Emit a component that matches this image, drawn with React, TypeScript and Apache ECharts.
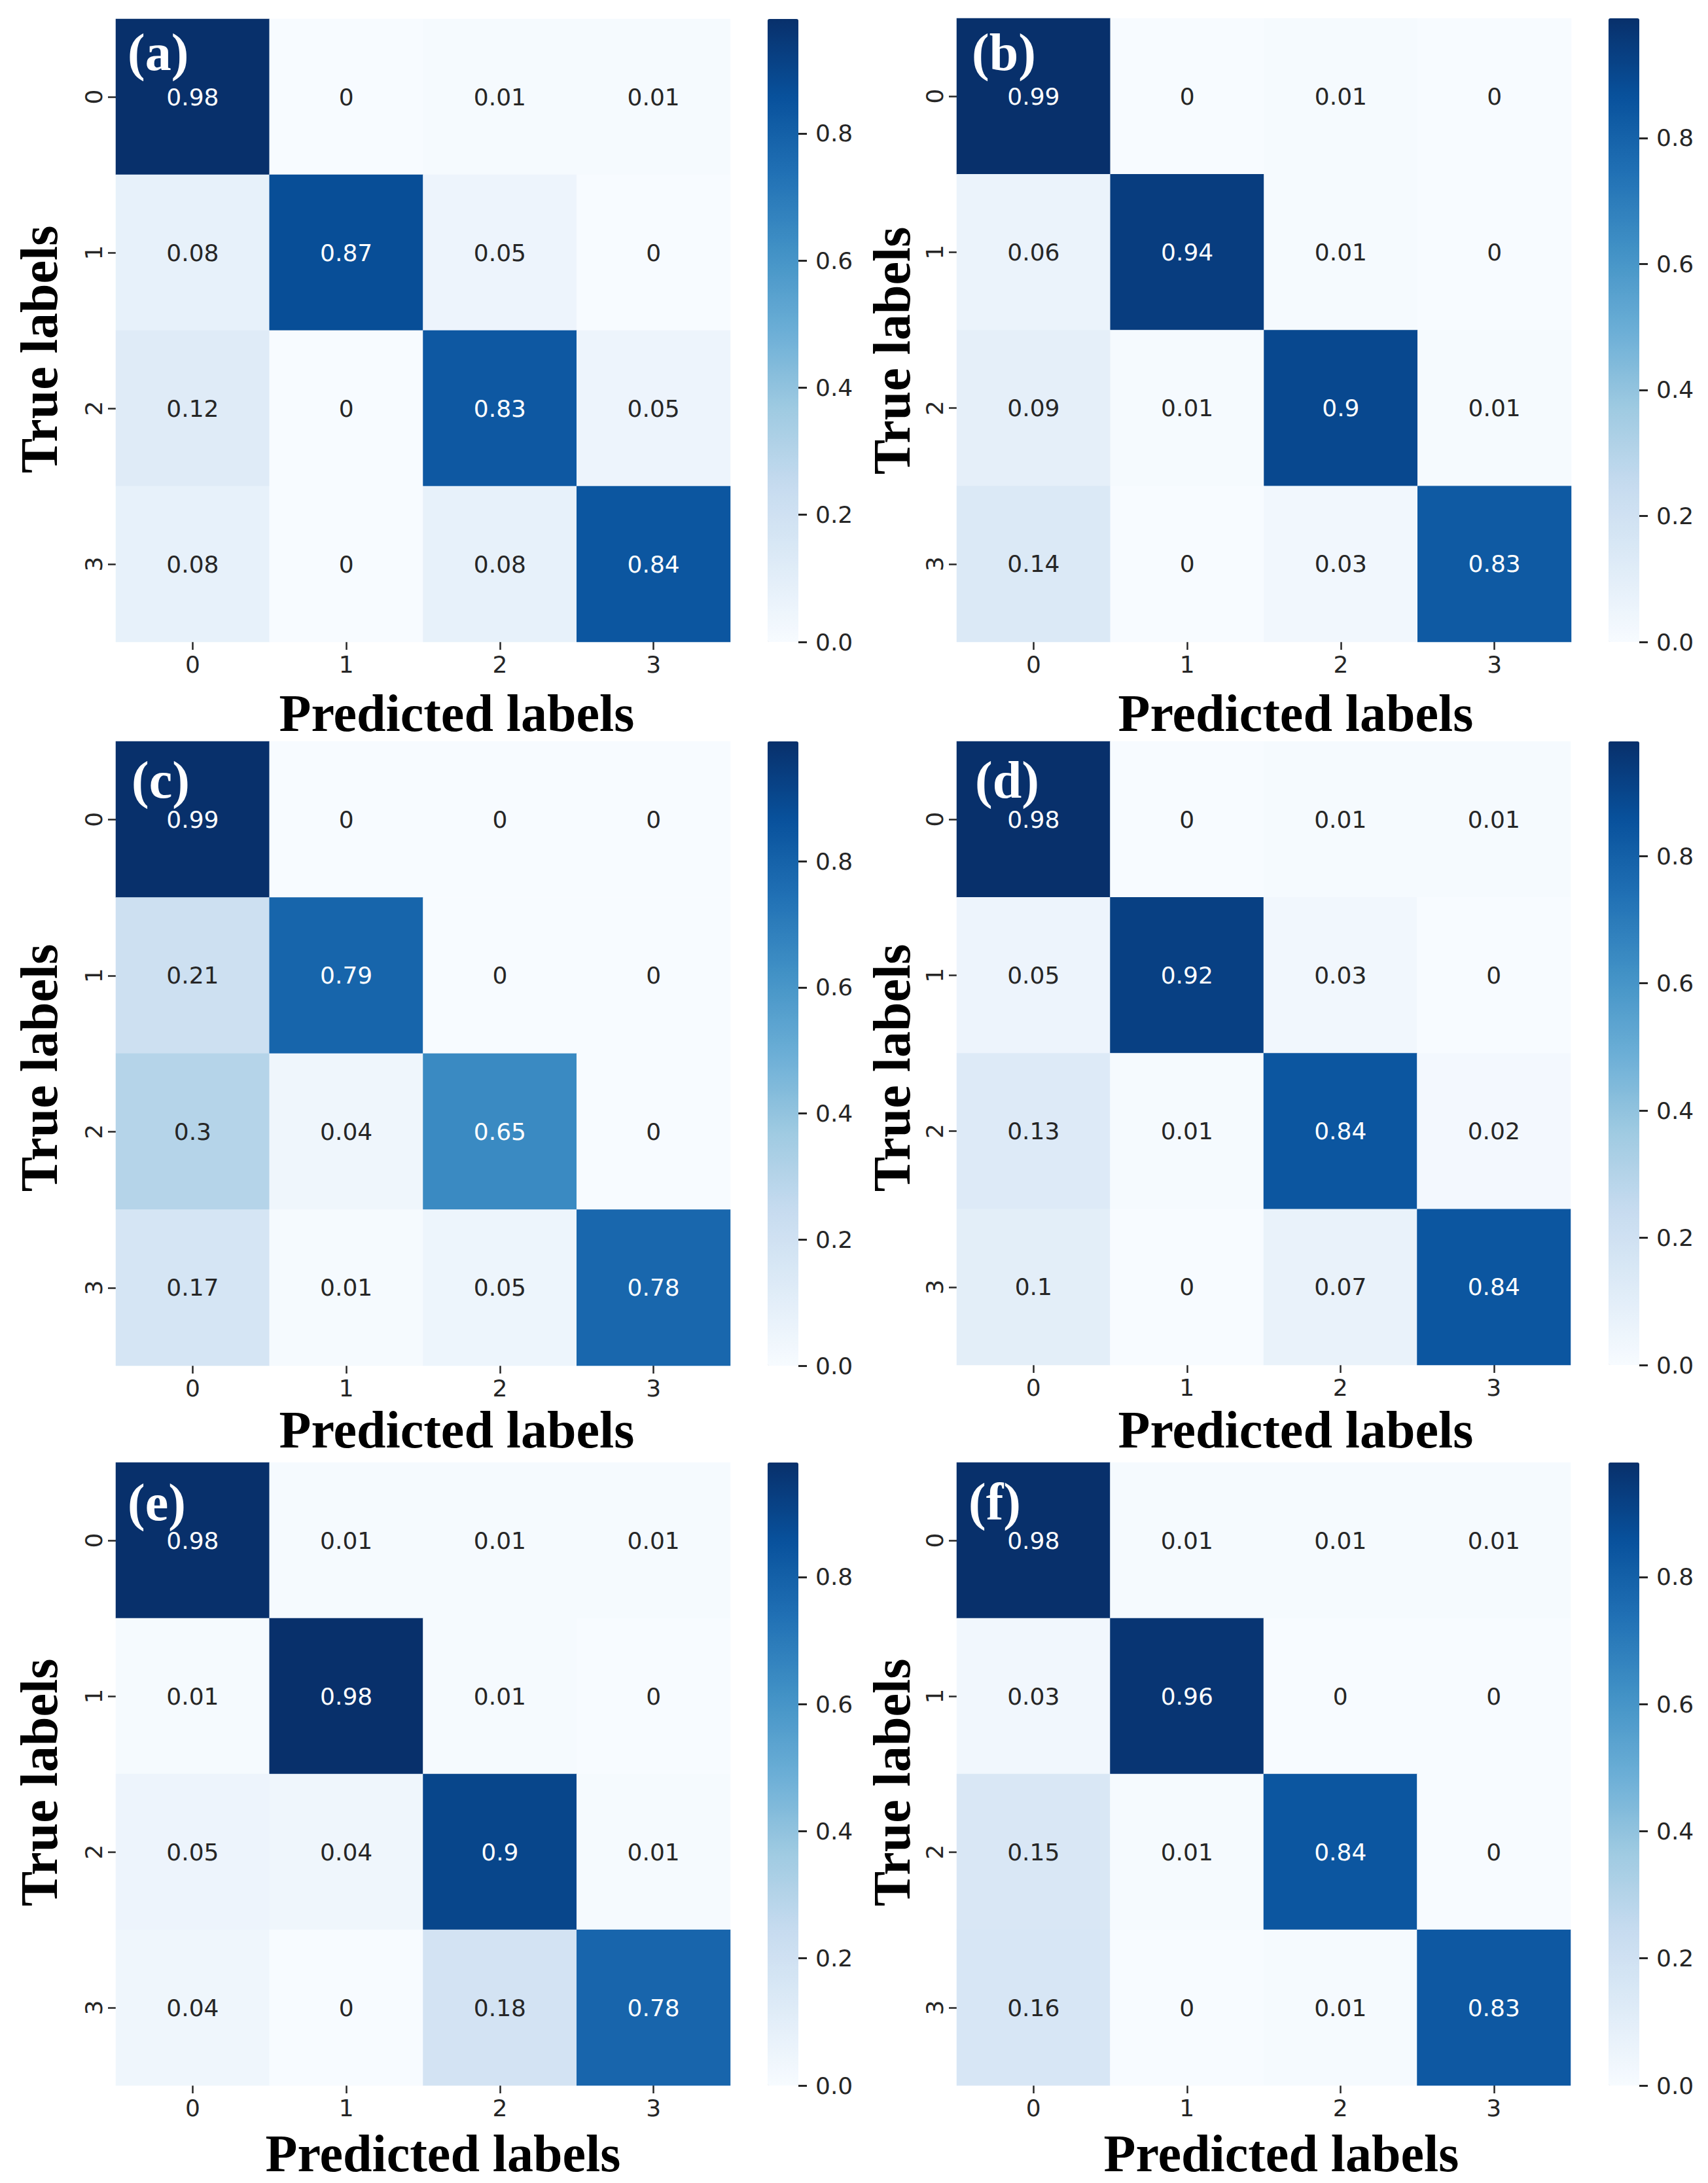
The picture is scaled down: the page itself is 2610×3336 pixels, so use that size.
import React, { useEffect, useRef } from "react";
import * as echarts from "echarts";

// ---------- data ----------
const CLASSES = ["0", "1", "2", "3"];
const PANEL_LABELS = ["(a)", "(b)", "(c)", "(d)", "(e)", "(f)"];
const X_TITLE = "Predicted labels";
const Y_TITLE = "True labels";
const CBAR_TICKS = [0, 0.2, 0.4, 0.6, 0.8];

const MATRIX_A = [
  [0.98, 0, 0.01, 0.01],
  [0.08, 0.87, 0.05, 0],
  [0.12, 0, 0.83, 0.05],
  [0.08, 0, 0.08, 0.84],
];
const MATRIX_B = [
  [0.99, 0, 0.01, 0],
  [0.06, 0.94, 0.01, 0],
  [0.09, 0.01, 0.9, 0.01],
  [0.14, 0, 0.03, 0.83],
];
const MATRIX_C = [
  [0.99, 0, 0, 0],
  [0.21, 0.79, 0, 0],
  [0.3, 0.04, 0.65, 0],
  [0.17, 0.01, 0.05, 0.78],
];
const MATRIX_D = [
  [0.98, 0, 0.01, 0.01],
  [0.05, 0.92, 0.03, 0],
  [0.13, 0.01, 0.84, 0.02],
  [0.1, 0, 0.07, 0.84],
];
const MATRIX_E = [
  [0.98, 0.01, 0.01, 0.01],
  [0.01, 0.98, 0.01, 0],
  [0.05, 0.04, 0.9, 0.01],
  [0.04, 0, 0.18, 0.78],
];
const MATRIX_F = [
  [0.98, 0.01, 0.01, 0.01],
  [0.03, 0.96, 0, 0],
  [0.15, 0.01, 0.84, 0],
  [0.16, 0, 0.01, 0.83],
];
const MATRICES = [MATRIX_A, MATRIX_B, MATRIX_C, MATRIX_D, MATRIX_E, MATRIX_F];

// ---------- style / layout ----------
const BLUES = [
  "#f7fbff", "#deebf7", "#c6dbef", "#9ecae1", "#6baed6",
  "#4292c6", "#2171b5", "#08519c", "#08306b",
];
const DARK = "#262626";
const SANS = "'DejaVu Sans', sans-serif";
const SERIF = "'Times New Roman', 'Liberation Serif', serif";

const LAYOUT = [
  { gx: 177, gy: 29, gw: 939, gh: 952, cx: 1173, tx: 698, ty: 1090, yx: 60, yy: 534, lx: 195, ly: 80 },
  { gx: 1462, gy: 28, gw: 939, gh: 953, cx: 2458, tx: 1980, ty: 1090, yx: 1363, yy: 536, lx: 1485, ly: 80 },
  { gx: 177, gy: 1133, gw: 939, gh: 954, cx: 1173, tx: 698, ty: 2185, yx: 60, yy: 1632, lx: 201, ly: 1192 },
  { gx: 1462, gy: 1133, gw: 938, gh: 953, cx: 2458, tx: 1980, ty: 2185, yx: 1363, yy: 1632, lx: 1490, ly: 1192 },
  { gx: 177, gy: 2235, gw: 939, gh: 952, cx: 1173, tx: 677, ty: 3291, yx: 60, yy: 2724, lx: 195, ly: 2296 },
  { gx: 1462, gy: 2235, gw: 938, gh: 952, cx: 2458, tx: 1958, ty: 3291, yx: 1363, yy: 2724, lx: 1480, ly: 2295 },
];
const CBAR_W = 47;

function buildOption() {
  const grid: any[] = [];
  const xAxis: any[] = [];
  const yAxis: any[] = [];
  const series: any[] = [];
  const visualMap: any[] = [];
  const graphic: any[] = [];

  MATRICES.forEach((m, i) => {
    const L = LAYOUT[i];
    const vmax = Math.max(...m.flat());
    grid.push({
      left: L.gx, top: L.gy, width: L.gw, height: L.gh,
      containLabel: false, outerBoundsMode: "none",
    });
    xAxis.push({
      type: "category",
      gridIndex: i,
      data: CLASSES,
      position: "bottom",
      axisLine: { show: false },
      axisTick: { show: true, alignWithLabel: true, length: 12, lineStyle: { color: DARK, width: 2.5 } },
      axisLabel: { color: DARK, fontSize: 36, fontFamily: SANS, margin: 16 },
      splitLine: { show: false },
    });
    yAxis.push({
      type: "category",
      gridIndex: i,
      data: CLASSES,
      inverse: true,
      axisLine: { show: false },
      axisTick: { show: true, alignWithLabel: true, length: 12, lineStyle: { color: DARK, width: 2.5 } },
      axisLabel: { color: DARK, fontSize: 36, fontFamily: SANS, rotate: 90, margin: 16 },
      splitLine: { show: false },
    });
    const data: any[] = [];
    m.forEach((row, r) =>
      row.forEach((v, c) => {
        data.push({
          value: [c, r, v],
          label: { color: v / vmax > 0.45 ? "#ffffff" : DARK },
        });
      })
    );
    series.push({
      type: "heatmap",
      xAxisIndex: i,
      yAxisIndex: i,
      data,
      label: {
        show: true,
        fontSize: 36,
        fontFamily: SANS,
        formatter: (p: any) => String(p.value[2]),
      },
      itemStyle: { borderWidth: 0 },
      emphasis: { disabled: true },
    });
    visualMap.push({
      type: "continuous",
      seriesIndex: i,
      dimension: 2,
      min: 0,
      max: vmax,
      orient: "vertical",
      left: L.cx,
      top: L.gy,
      itemWidth: CBAR_W,
      itemHeight: L.gh,
      padding: 0,
      calculable: false,
      hoverLink: false,
      inRange: { color: BLUES },
      textStyle: { color: "transparent", fontSize: 1 },
    });
  });

  // colorbar axes
  MATRICES.forEach((m, i) => {
    const L = LAYOUT[i];
    const vmax = Math.max(...m.flat());
    const gi = MATRICES.length + i;
    grid.push({
      left: L.cx, top: L.gy, width: CBAR_W, height: L.gh,
      containLabel: false, outerBoundsMode: "none",
    });
    xAxis.push({ type: "category", gridIndex: gi, data: [""], show: false });
    yAxis.push({
      type: "value",
      gridIndex: gi,
      position: "right",
      min: 0,
      max: vmax,
      z: 10,
      axisLine: { show: false, onZero: false },
      splitLine: { show: false },
      axisTick: {
        show: true,
        inside: false,
        length: 13,
        customValues: CBAR_TICKS,
        lineStyle: { color: DARK, width: 3 },
      },
      axisLabel: {
        show: true,
        customValues: CBAR_TICKS,
        color: DARK,
        fontSize: 36,
        fontFamily: SANS,
        margin: 26,
        formatter: (v: number) => v.toFixed(1),
      },
    });
  });

  // titles and panel labels
  LAYOUT.forEach((L, i) => {
    graphic.push({
      type: "text",
      x: L.tx,
      y: L.ty,
      style: {
        text: X_TITLE,
        fontFamily: SERIF,
        fontWeight: "bold",
        fontSize: 80,
        fill: "#000",
        align: "center",
        verticalAlign: "middle",
      },
    });
    graphic.push({
      type: "text",
      x: L.yx,
      y: L.yy,
      rotation: Math.PI / 2,
      style: {
        text: Y_TITLE,
        fontFamily: SERIF,
        fontWeight: "bold",
        fontSize: 80,
        fill: "#000",
        align: "center",
        verticalAlign: "middle",
      },
    });
    graphic.push({
      type: "text",
      x: L.lx,
      y: L.ly,
      z: 100,
      style: {
        text: PANEL_LABELS[i],
        fontFamily: SERIF,
        fontWeight: "bold",
        fontSize: 80,
        fill: "#ffffff",
        align: "left",
        verticalAlign: "middle",
      },
    });
  });

  return {
    animation: false,
    backgroundColor: "#ffffff",
    grid,
    xAxis,
    yAxis,
    visualMap,
    series,
    graphic,
  };
}

export default function App() {
  const ref = useRef<HTMLDivElement>(null);
  useEffect(() => {
    document.body.style.margin = "0";
    if (!ref.current) return;
    const chart = echarts.init(ref.current, undefined, { renderer: "svg" });
    chart.setOption(buildOption() as any);
    return () => chart.dispose();
  }, []);
  return <div ref={ref} style={{ width: 2610, height: 3336 }} />;
}
